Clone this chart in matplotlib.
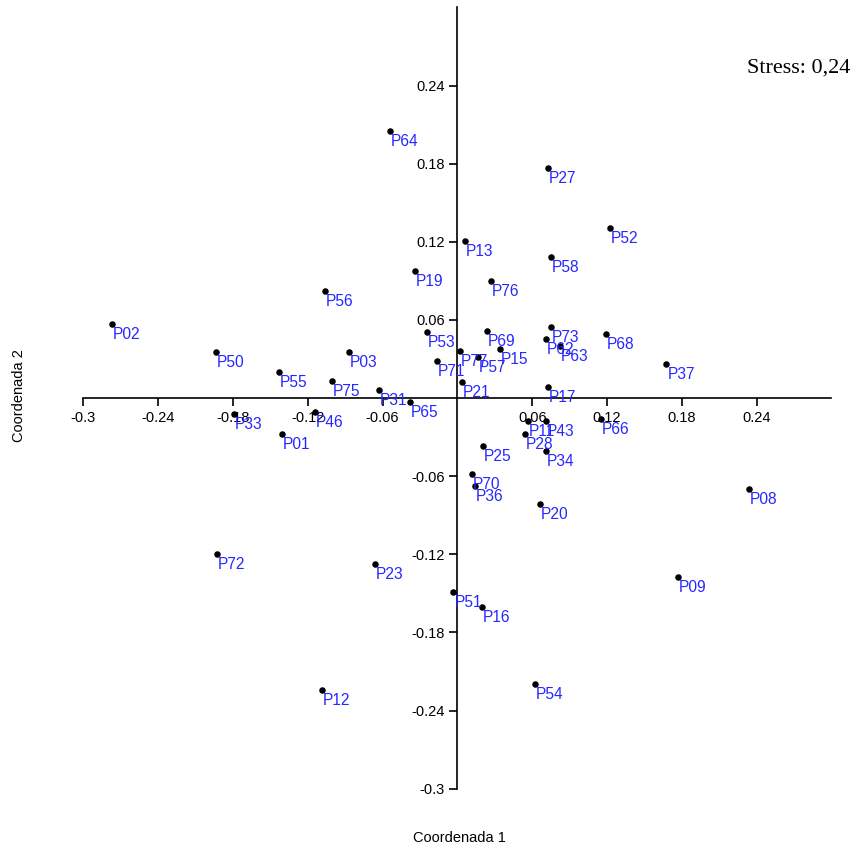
import matplotlib
matplotlib.use("Agg")
import matplotlib.pyplot as plt

# NMDS ordination scores (Coordenada 1, Coordenada 2) for each plot
labels = ["P01", "P02", "P03", "P08", "P09", "P11", "P12", "P13", "P15", "P16",
          "P17", "P19", "P20", "P21", "P23", "P25", "P27", "P28", "P31", "P33",
          "P34", "P36", "P37", "P43", "P46", "P50", "P51", "P52", "P53", "P54",
          "P55", "P56", "P57", "P58", "P62", "P63", "P64", "P65", "P66", "P68",
          "P69", "P70", "P71", "P72", "P73", "P75", "P76", "P77"]
coord1 = [-0.1405, -0.2768, -0.0873, 0.2340, 0.1766, 0.0568, -0.1087, 0.0058, 0.0341, 0.0194,
          0.0726, -0.0338, 0.0659, 0.0034, -0.0662, 0.0204, 0.0728, 0.0541, -0.0632, -0.1792,
          0.0712, 0.0140, 0.1675, 0.0712, -0.1140, -0.1939, -0.0032, 0.1223, -0.0247, 0.0619,
          -0.1431, -0.1060, 0.0167, 0.0752, 0.0712, 0.0824, -0.0541, -0.0383, 0.1153, 0.1193,
          0.0234, 0.0114, -0.0167, -0.1926, 0.0752, -0.1006, 0.0271, 0.0020]
coord2 = [-0.0277, 0.0568, 0.0351, -0.0696, -0.1375, -0.0174, -0.2243, 0.1208, 0.0376, -0.1605,
          0.0082, 0.0978, -0.0812, 0.0120, -0.1273, -0.0366, 0.1769, -0.0277, 0.0059, -0.0123,
          -0.0405, -0.0673, 0.0261, -0.0174, -0.0110, 0.0351, -0.1490, 0.1308, 0.0504, -0.2194,
          0.0197, 0.0824, 0.0312, 0.1081, 0.0453, 0.0402, 0.2050, -0.0033, -0.0161, 0.0492,
          0.0517, -0.0584, 0.0287, -0.1198, 0.0543, 0.0133, 0.0901, 0.0363]

tick_values = [-0.3, -0.24, -0.18, -0.12, -0.06, 0.06, 0.12, 0.18, 0.24]
tick_labels = ["-0.3", "-0.24", "-0.18", "-0.12", "-0.06", "0.06", "0.12", "0.18", "0.24"]
stress_text = "Stress: 0,24"

plt.rcParams["font.family"] = ["Liberation Sans", "DejaVu Sans"]

fig = plt.figure(figsize=(8.55, 8.50), dpi=100)
ax = fig.add_axes([0.0974, 0.0722, 0.8751, 0.919])

ax.set_xlim(-0.3, 0.3)
ax.set_ylim(-0.3, 0.3)

# axes cross at the origin
for side in ("top", "right"):
    ax.spines[side].set_visible(False)
ax.spines["left"].set_position(("data", 0))
ax.spines["bottom"].set_position(("data", 0))
for side in ("left", "bottom"):
    ax.spines[side].set_linewidth(1.2)

ax.set_xticks(tick_values)
ax.set_xticklabels(tick_labels)
ax.set_yticks(tick_values)
ax.set_yticklabels(tick_labels)
ax.tick_params(axis="both", direction="out", length=6, width=1.2,
               labelsize=10.5, pad=3, colors="black")

ax.scatter(coord1, coord2, s=22, color="black", zorder=3, linewidths=0)

for name, x, y in zip(labels, coord1, coord2):
    ax.annotate(name, (x, y), xytext=(1, -15), textcoords="offset pixels",
                ha="left", va="baseline", fontsize=11.2, color="#2727ff", zorder=4)

fig.text(0.9950, 0.920, stress_text, ha="right", va="center",
         fontsize=16, family=["Liberation Serif", "DejaVu Serif"])
fig.text(0.5374, 0.014, "Coordenada 1", ha="center", va="center", fontsize=10.5)
fig.text(0.022, 0.535, "Coordenada 2", ha="center", va="center",
         rotation=90, fontsize=10.5)

fig.savefig("out.png", dpi=100)
